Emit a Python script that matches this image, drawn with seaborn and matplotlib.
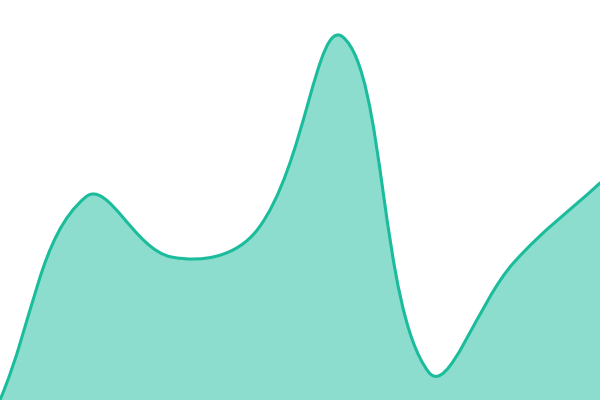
import numpy as np
import matplotlib
matplotlib.use("Agg")
import matplotlib.pyplot as plt
import seaborn as sns
from matplotlib.path import Path
from matplotlib.patches import PathPatch

# Data: 8 evenly spaced points
x_pos = [0, 1, 2, 3, 4, 5, 6, 7]
values = [0, 50.75, 35.75, 42.5, 90.75, 7, 34.5, 54.25]

line_color = "#1abc9c"
tension = 0.4


def spline_path(ax, x, y, close=False):
    # control points worked out in screen space, with a fixed tension
    pts = ax.transData.transform(np.column_stack([x, y]))
    n = len(pts)
    ctrl_in, ctrl_out = [], []
    for i in range(n):
        prev = pts[max(i - 1, 0)]
        cur = pts[i]
        nxt = pts[min(i + 1, n - 1)]
        d01 = np.hypot(*(cur - prev))
        d12 = np.hypot(*(nxt - cur))
        s01 = d01 / (d01 + d12)
        s12 = d12 / (d01 + d12)
        ctrl_in.append(cur - tension * s01 * (nxt - prev))
        ctrl_out.append(cur + tension * s12 * (nxt - prev))
    verts = [pts[0]]
    codes = [Path.MOVETO]
    for i in range(n - 1):
        verts += [ctrl_out[i], ctrl_in[i + 1], pts[i + 1]]
        codes += [Path.CURVE4] * 3
    if close:
        base = ax.transData.transform([(x[-1], 0), (x[0], 0)])
        verts += [base[0], base[1], pts[0]]
        codes += [Path.LINETO, Path.LINETO, Path.CLOSEPOLY]
    verts = ax.transData.inverted().transform(np.array(verts))
    return Path(verts, codes)


sns.set_theme(style="white")

fig = plt.figure(figsize=(6, 4), dpi=100)
ax = fig.add_axes([0, 0, 1, 1])
ax.set_xlim(0, 7)
ax.set_ylim(0, 100)

ax.add_patch(PathPatch(spline_path(ax, x_pos, values, close=True),
                       facecolor=line_color, alpha=0.5, edgecolor="none"))
ax.add_patch(PathPatch(spline_path(ax, x_pos, values), facecolor="none",
                       edgecolor=line_color, lw=2.2, capstyle="round"))

ax.axis("off")

plt.savefig("out.png", dpi=100)
